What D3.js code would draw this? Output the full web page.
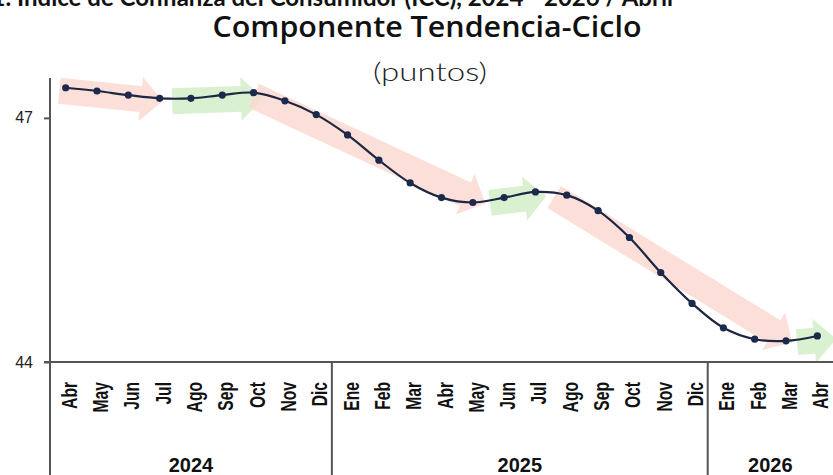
<!DOCTYPE html>
<html>
<head>
<meta charset="utf-8">
<script src="https://cdn.jsdelivr.net/npm/d3@7"></script>
<style>
  body { margin: 0; background: #fff; }
  svg { display: block; }
</style>
</head>
<body>
<svg id="chart" width="833" height="475"></svg>
<script>
// months shown on the axis (Abr 2024 .. Abr 2026)
const months = ["Abr", "May", "Jun", "Jul", "Ago", "Sep", "Oct", "Nov", "Dic",
  "Ene", "Feb", "Mar", "Abr", "May", "Jun", "Jul", "Ago", "Sep", "Oct", "Nov", "Dic",
  "Ene", "Feb", "Mar", "Abr"];

// trend-cycle component (points)
const values = [47.37, 47.33, 47.28, 47.24, 47.24, 47.28, 47.31, 47.21, 47.04,
  46.79, 46.48, 46.20, 46.02, 45.96, 46.02, 46.09, 46.05, 45.86, 45.53, 45.10, 44.72,
  44.42, 44.28, 44.26, 44.32];

// year groups: label, first and last month index
const years = [
  { label: "2024", first: 0, last: 8 },
  { label: "2025", first: 9, last: 20 },
  { label: "2026", first: 21, last: 24 }
];

// y ticks
const yTicks = [44, 47];

// trend arrows behind the line (month index positions)
const arrows = [
  { from: -0.2, to: 3.1, trend: "down" },
  { from: 3.4, to: 6.3, trend: "up" },
  { from: 6.0, to: 13.4, trend: "down" },
  { from: 13.55, to: 15.35, trend: "up" },
  { from: 15.6, to: 23.2, trend: "down" },
  { from: 23.35, to: 24.6, trend: "up" }
];

const margin = { left: 50, right: 0, top: 78, axis: 362 };
const W = 833, H = 475;

const svg = d3.select("#chart");

// scales
const x = d3.scaleBand()
  .domain(d3.range(months.length))
  .range([margin.left, W])
  .padding(0);

const xl = d3.scaleLinear()
  .domain([-0.5, months.length - 0.5])
  .range([margin.left, W]);

const y = d3.scaleLinear()
  .domain([44, 47.49])
  .range([margin.axis, margin.top]);

// value at a fractional month position
function valueAt(p) {
  const i = Math.max(0, Math.min(values.length - 2, Math.floor(p)));
  const t = p - i;
  return values[i] + (values[i + 1] - values[i]) * t;
}

// title (first line is cut off by the top edge in the original)
svg.append("text")
  .attr("x", 673)
  .attr("y", 6)
  .attr("text-anchor", "end")
  .style("font-family", "Lato, sans-serif")
  .style("font-weight", "bold")
  .style("font-size", "24px")
  .attr("fill", "#111")
  .text("Gráfica 1. Índice de Confianza del Consumidor (ICC), 2024 - 2026 / Abril");

svg.append("text")
  .attr("x", 427)
  .attr("y", 37)
  .attr("text-anchor", "middle")
  .attr("textLength", 429)
  .attr("lengthAdjust", "spacingAndGlyphs")
  .style("font-family", "'Open Sans', sans-serif")
  .style("font-weight", 600)
  .style("font-size", "28px")
  .attr("fill", "#111")
  .text("Componente Tendencia-Ciclo");

svg.append("text")
  .attr("x", 430)
  .attr("y", 81)
  .attr("text-anchor", "middle")
  .attr("textLength", 114)
  .attr("lengthAdjust", "spacingAndGlyphs")
  .style("font-family", "Lato, sans-serif")
  .style("font-weight", 300)
  .style("font-size", "25px")
  .attr("fill", "#222")
  .text("(puntos)");

// trend arrows
const arrowColor = { down: "#fcd9d1", up: "#d2efc9" };
const shaftHalf = 13, headHalf = 22, headLen = 22;

svg.append("g")
  .selectAll("path")
  .data(arrows)
  .join("path")
  .attr("fill", d => arrowColor[d.trend])
  .attr("opacity", 0.85)
  .attr("d", d => {
    const x0 = xl(d.from), y0 = y(valueAt(Math.max(0, d.from))) + 3;
    const x1 = xl(d.to), y1 = y(valueAt(Math.min(values.length - 1, d.to))) + 3;
    const len = Math.hypot(x1 - x0, y1 - y0);
    const ux = (x1 - x0) / len, uy = (y1 - y0) / len;
    const nx = -uy, ny = ux;
    const bx = x1 - ux * headLen, by = y1 - uy * headLen;
    const pts = [
      [x0 + nx * shaftHalf, y0 + ny * shaftHalf],
      [bx + nx * shaftHalf, by + ny * shaftHalf],
      [bx + nx * headHalf, by + ny * headHalf],
      [x1, y1],
      [bx - nx * headHalf, by - ny * headHalf],
      [bx - nx * shaftHalf, by - ny * shaftHalf],
      [x0 - nx * shaftHalf, y0 - ny * shaftHalf]
    ];
    return "M" + pts.map(p => p.join(",")).join("L") + "Z";
  });

// y axis
const yAxis = svg.append("g")
  .attr("transform", `translate(${margin.left},0)`)
  .call(d3.axisLeft(y).tickValues(yTicks).tickSize(6).tickFormat(d3.format("d")));

yAxis.select(".domain").remove();
yAxis.selectAll("line").attr("stroke", "#555").attr("stroke-width", 2);
yAxis.selectAll("text")
  .attr("x", -17)
  .style("font-family", "'Liberation Sans', Arial, sans-serif")
  .style("font-size", "16px")
  .attr("fill", "#222");

// axis frame lines
svg.append("line")
  .attr("x1", margin.left).attr("x2", margin.left)
  .attr("y1", margin.top).attr("y2", H)
  .attr("stroke", "#555").attr("stroke-width", 2);

svg.append("line")
  .attr("x1", margin.left - 6).attr("x2", W)
  .attr("y1", margin.axis).attr("y2", margin.axis)
  .attr("stroke", "#555").attr("stroke-width", 2);

// x axis month labels
const xAxis = svg.append("g")
  .attr("transform", `translate(0,${margin.axis})`)
  .call(d3.axisBottom(x).tickSize(0).tickFormat(i => months[i]));

xAxis.select(".domain").remove();
xAxis.selectAll("text")
  .attr("x", null).attr("y", null).attr("dy", null)
  .attr("text-anchor", "end")
  .attr("transform", "translate(11,20) rotate(-90) scale(0.92,1.3)")
  .style("font-family", "'Liberation Sans', Arial, sans-serif")
  .style("font-weight", "bold")
  .style("font-size", "17px")
  .attr("fill", "#111");

// year separators and labels
svg.append("g")
  .selectAll("line")
  .data(years.slice(1))
  .join("line")
  .attr("x1", d => x(d.first)).attr("x2", d => x(d.first))
  .attr("y1", margin.axis).attr("y2", H)
  .attr("stroke", "#555").attr("stroke-width", 2);

svg.append("g")
  .selectAll("text")
  .data(years)
  .join("text")
  .attr("x", d => (x(d.first) + x(d.last) + x.bandwidth()) / 2)
  .attr("y", 472)
  .attr("text-anchor", "middle")
  .style("font-family", "'Liberation Sans', Arial, sans-serif")
  .style("font-weight", "bold")
  .style("font-size", "20px")
  .attr("fill", "#111")
  .text(d => d.label);

// trend-cycle line
const line = d3.line()
  .x((d, i) => x(i) + x.bandwidth() / 2)
  .y(d => y(d))
  .curve(d3.curveCatmullRom.alpha(0.5));

svg.append("path")
  .datum(values)
  .attr("fill", "none")
  .attr("stroke", "#1d2540")
  .attr("stroke-width", 2.2)
  .attr("d", line);

svg.append("g")
  .selectAll("circle")
  .data(values)
  .join("circle")
  .attr("cx", (d, i) => x(i) + x.bandwidth() / 2)
  .attr("cy", d => y(d))
  .attr("r", 3.6)
  .attr("fill", "#1b2a4c");
</script>
</body>
</html>
